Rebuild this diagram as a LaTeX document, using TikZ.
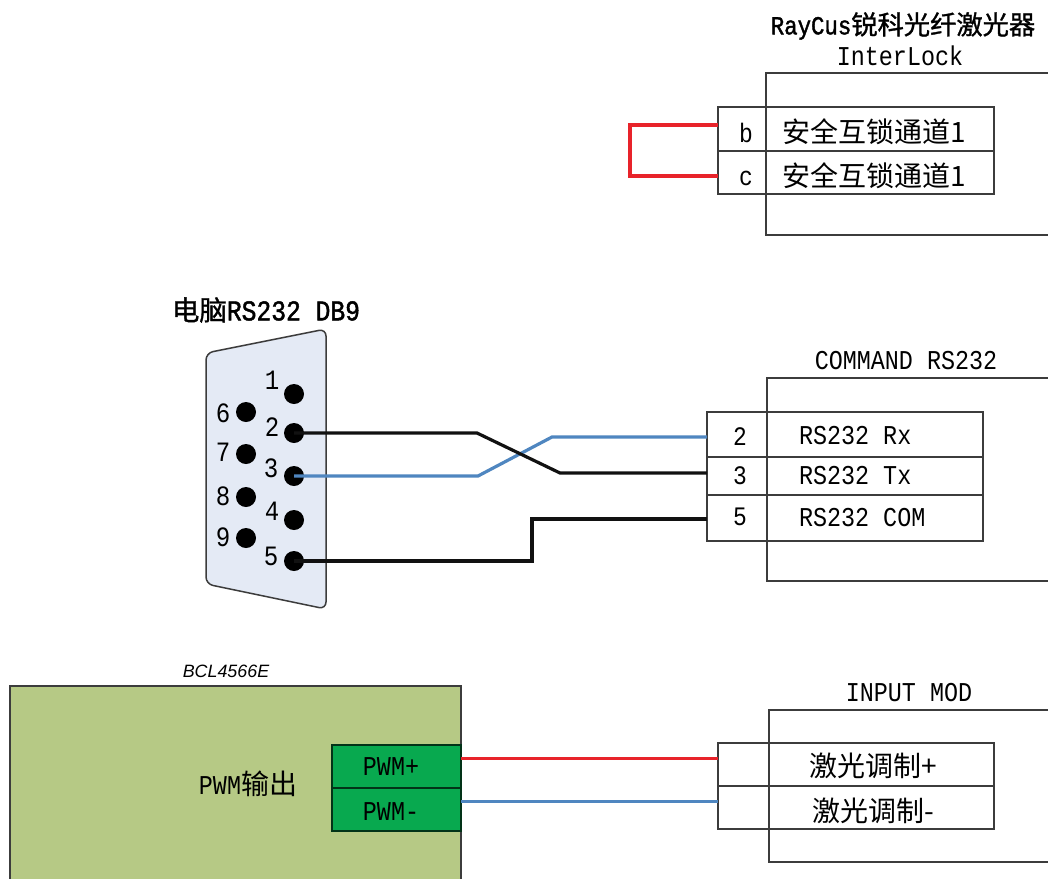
\documentclass[tikz,border=0pt]{standalone}
\usepackage{fontspec}
\setmainfont[FakeStretch=0.86]{Liberation Mono}
\newfontfamily\cjk{Noto Sans CJK SC}[Scale=1]
\newfontfamily\cjkb{Noto Sans CJK SC}[BoldFont=*,FakeBold=1.2]
\newfontfamily\monob[FakeStretch=0.86,FakeBold=1.5]{Liberation Mono}
\newfontfamily\sans{Liberation Sans}
\definecolor{linegray}{HTML}{3C3C3C}
\definecolor{wirered}{HTML}{E8232A}
\definecolor{wireblue}{HTML}{4F86C0}
\definecolor{wireblack}{HTML}{111111}
\definecolor{connfill}{HTML}{E4EAF5}
\definecolor{boardfill}{HTML}{B6C985}
\definecolor{termfill}{HTML}{08A94F}
\def\px{0.75pt}
\newcommand{\boxat}[6][]{\node[anchor=north west,minimum width=#5*\px,minimum height=#6*\px,#1] (#2) at (#3,#4) {};}
\tikzset{
  cellbox/.style={draw=linegray,line width=1.5*\px,inner sep=0pt,outer sep=0pt},
  txt/.style={inner sep=0pt,outer sep=0pt,font=\fontsize{20}{24}\selectfont},
  hdr/.style={inner sep=0pt,outer sep=0pt,font=\fontsize{20.4}{24}\selectfont},
  cjktxt/.style={inner sep=0pt,outer sep=0pt,font=\fontsize{21}{25}\cjk\selectfont},
  pinlabel/.style={inner sep=0pt,outer sep=0pt,font=\fontsize{21}{24}\selectfont},
  pindot/.style={circle,fill=black,minimum size=20*\px,inner sep=0pt,outer sep=0pt},
  wire/.style={line width=3.2*\px,line join=miter},
}
\begin{document}
\begin{tikzpicture}[x=\px,y=-\px]
\useasboundingbox (0,0) rectangle (1048,878);
\clip (0,0) rectangle (1048,878);
\fill[white] (0,0) rectangle (1048,878);

% Interlock block
\boxat[cellbox]{ilouter}{766}{73}{320}{162}
\boxat[cellbox]{cellb}{718}{107}{276}{44}
\boxat[cellbox]{cellc}{718}{151}{276}{43}
\draw[cellbox] (766,107) -- (766,194);
\node[txt,font=\fontsize{19.5}{22}\monob\selectfont] (title) at (903,26) {RayCus{\cjkb\fontsize{19.7}{22}\selectfont 锐科光纤激光器}};
\node[hdr] (interlock) at (900,56) {InterLock};
\node[txt] (lb) at (746,133) {b};
\node[txt] (lc) at (746,178) {c};
\node[cjktxt] (s1) at (874,132) {安全互锁通道1};
\node[cjktxt] (s2) at (874,176) {安全互锁通道1};
\coordinate (jb) at (630,125);
\coordinate (jc) at (630,176);
\draw[wire,wirered] ([yshift=4*\px]cellb.west) -- (jb) -- (jc) -- ([yshift=-3.5*\px]cellc.west);

% DB9 connector
\node[txt,font=\fontsize{21.5}{24}\monob\selectfont] (dbtitle) at (266,310) {{\cjkb\fontsize{20.6}{24}\selectfont 电脑}RS232 DB9};
\draw[line width=1.5*\px,draw=linegray,fill=connfill,rounded corners=7*\px]
  (206,353) -- (326,329) -- (326,609) -- (206,584) -- cycle;
\foreach \n/\x/\y in {1/294/394,2/294/433,3/294/476,4/294/520,5/294/561,6/246/412,7/246/454,8/246/497,9/246/538}{
  \node[pindot] (p\n) at (\x,\y) {};
}
\node[pinlabel] (n1) at (272,380) {1};
\node[pinlabel] (n2) at (272,427) {2};
\node[pinlabel] (n3) at (271,468) {3};
\node[pinlabel] (n4) at (272,511) {4};
\node[pinlabel] (n5) at (271,556) {5};
\node[pinlabel] (n6) at (223,413) {6};
\node[pinlabel] (n7) at (223,452) {7};
\node[pinlabel] (n8) at (223,496) {8};
\node[pinlabel] (n9) at (223,537) {9};

% Command RS232 block
\boxat[cellbox]{cmdouter}{767}{378}{320}{203}
\boxat[cellbox]{c2}{707}{412}{276}{45}
\boxat[cellbox]{c3}{707}{457}{276}{38}
\boxat[cellbox]{c5}{707}{495}{276}{46}
\draw[cellbox] (767,412) -- (767,541);
\node[hdr] (cmd) at (906,361) {COMMAND RS232};
\node[txt] (l2) at (740,437) {2};
\node[txt] (l3) at (740,476) {3};
\node[txt] (l5) at (740,517) {5};
\node[hdr,anchor=west] (rx) at (799,436) {RS232 Rx};
\node[hdr,anchor=west] (tx) at (799,476) {RS232 Tx};
\node[hdr,anchor=west] (com) at (799,518) {RS232 COM};
\coordinate (a1) at (477,433);
\coordinate (a2) at (560,473);
\coordinate (b1) at (478,476);
\coordinate (b2) at (552,437);
\coordinate (e1) at (532,561);
\coordinate (e2) at (532,519);
\draw[wire,wireblue] (p3.center) -- (b1) -- (b2) -- ([yshift=-2.5*\px]c2.west);
\draw[wire,wireblack] (p2.center) -- (a1) -- (a2) -- ([yshift=3*\px]c3.west);
\draw[wire,wireblack] (p5.center) -- (e1) -- (e2) -- ([yshift=-1*\px]c5.west);

% BCL4566E board
\boxat[cellbox,fill=boardfill]{board}{10}{686}{451}{220}
\node[inner sep=0pt,font=\fontsize{13.4}{16}\sans\itshape\selectfont] (bcl) at (226,671) {BCL4566E};
\node[hdr] (pwmout) at (248,784) {PWM{\cjk\fontsize{21}{25}\selectfont 输出}};
\boxat[cellbox,fill=termfill,draw=black!70!termfill]{pplus}{332}{745}{129}{43}
\boxat[cellbox,fill=termfill,draw=black!70!termfill]{pminus}{332}{788}{129}{43}
\node[hdr] (lp) at (391,767) {PWM+};
\node[hdr] (lm) at (391,812) {PWM-};

% Input MOD block
\boxat[cellbox]{inouter}{769}{710}{320}{152}
\boxat[cellbox]{mp}{718}{743}{276}{43}
\boxat[cellbox]{mm}{718}{786}{276}{43}
\draw[cellbox] (769,743) -- (769,829);
\node[hdr] (inmod) at (909,693) {INPUT MOD};
\node[cjktxt] (m1) at (873,766) {激光调制+};
\node[cjktxt] (m2) at (873,811) {激光调制-};
\draw[wire,wirered] ([yshift=8*\px]pplus.east) -- ([yshift=6*\px]mp.west);
\draw[wire,wireblue] ([yshift=8*\px]pminus.east) -- ([yshift=6*\px]mm.west);
\end{tikzpicture}
\end{document}
